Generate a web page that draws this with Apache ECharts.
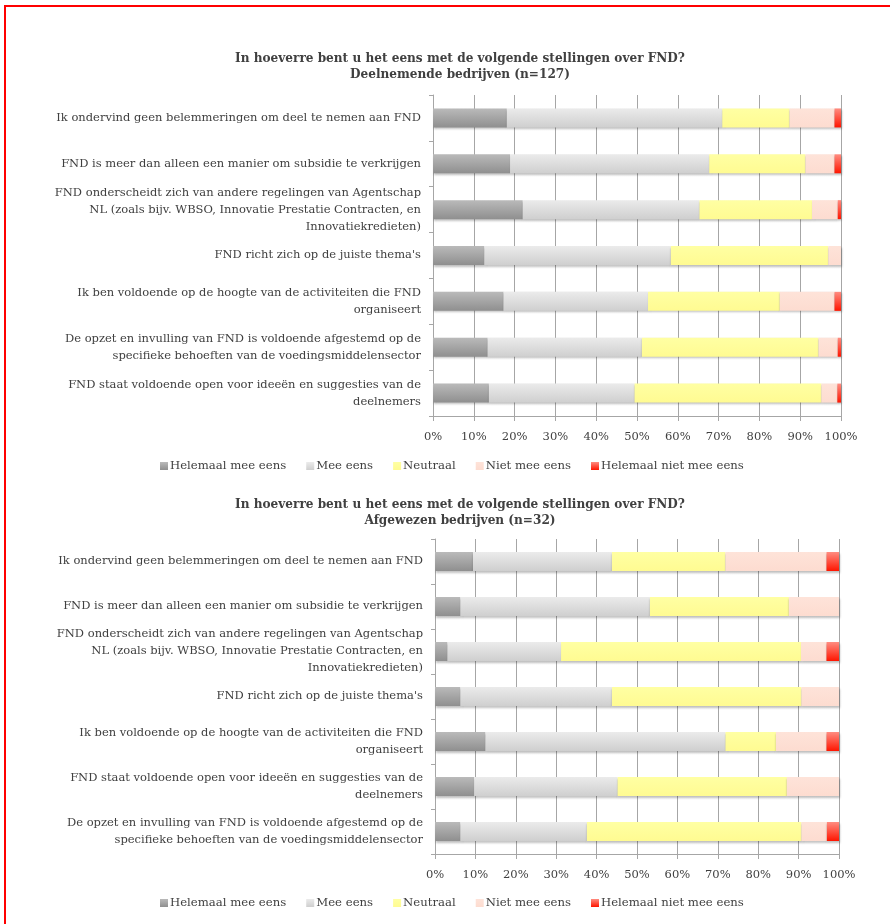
<!DOCTYPE html>
<html>
<head>
<meta charset="utf-8">
<script src="https://cdn.jsdelivr.net/npm/echarts@6/dist/echarts.min.js"></script>
<style>
html,body{margin:0;padding:0;background:#fff;}
#frame{position:absolute;left:4px;top:5px;width:920px;height:960px;border:2px solid #ff0000;box-sizing:border-box;z-index:10;pointer-events:none;}
#chart{position:absolute;left:0;top:0;width:890px;height:924px;}
</style>
</head>
<body>
<div id="chart"></div>
<div id="frame"></div>
<script>
// ---- Data ----
var seriesNames = ['Helemaal mee eens', 'Mee eens', 'Neutraal', 'Niet mee eens', 'Helemaal niet mee eens'];
var xTicks = [0, 10, 20, 30, 40, 50, 60, 70, 80, 90, 100];

var titleTop = 'In hoeverre bent u het eens met de volgende stellingen over FND?\nDeelnemende bedrijven (n=127)';
var titleBottom = 'In hoeverre bent u het eens met de volgende stellingen over FND?\nAfgewezen bedrijven (n=32)';

var categoriesTop = [
  'Ik ondervind geen belemmeringen om deel te nemen aan FND',
  'FND is meer dan alleen een manier om subsidie te verkrijgen',
  'FND onderscheidt zich van andere regelingen van Agentschap\nNL (zoals bijv. WBSO, Innovatie Prestatie Contracten, en\nInnovatiekredieten)',
  "FND richt zich op de juiste thema's",
  'Ik ben voldoende op de hoogte van de activiteiten die FND\norganiseert',
  'De opzet en invulling van FND is voldoende afgestemd op de\nspecifieke behoeften van de voedingsmiddelensector',
  'FND staat voldoende open voor ideeën en suggesties van de\ndeelnemers'
];
var topHelemaalMee     = [18.1, 18.9, 22.0, 12.6, 17.3, 13.4, 13.7];
var topMee             = [52.8, 48.8, 43.3, 45.7, 35.4, 37.8, 35.7];
var topNeutraal        = [16.5, 23.6, 27.6, 38.6, 32.3, 43.3, 45.8];
var topNietMee         = [11.0,  7.1,  6.3,  3.1, 13.4,  4.7,  3.9];
var topHelemaalNietMee = [ 1.6,  1.6,  0.8,  0.0,  1.6,  0.8,  0.9];

var categoriesBottom = [
  'Ik ondervind geen belemmeringen om deel te nemen aan FND',
  'FND is meer dan alleen een manier om subsidie te verkrijgen',
  'FND onderscheidt zich van andere regelingen van Agentschap\nNL (zoals bijv. WBSO, Innovatie Prestatie Contracten, en\nInnovatiekredieten)',
  "FND richt zich op de juiste thema's",
  'Ik ben voldoende op de hoogte van de activiteiten die FND\norganiseert',
  'FND staat voldoende open voor ideeën en suggesties van de\ndeelnemers',
  'De opzet en invulling van FND is voldoende afgestemd op de\nspecifieke behoeften van de voedingsmiddelensector'
];
var botHelemaalMee     = [ 9.4,  6.3,  3.1,  6.3, 12.5,  9.7,  6.3];
var botMee             = [34.4, 46.9, 28.1, 37.5, 59.4, 35.5, 31.3];
var botNeutraal        = [28.1, 34.4, 59.4, 46.9, 12.5, 41.9, 53.1];
var botNietMee         = [25.0, 12.5,  6.3,  9.4, 12.5, 12.9,  6.3];
var botHelemaalNietMee = [ 3.1,  0.0,  3.1,  0.0,  3.1,  0.0,  3.1];

// ---- Styles ----
var FONT = 'DejaVu Serif';
var TXT = '#404040';
function grad(a, b) {
  return new echarts.graphic.LinearGradient(0, 0, 0, 1, [{offset: 0, color: a}, {offset: 1, color: b}]);
}
var fills = [
  grad('#bababa', '#8f8f8f'),
  grad('#ebebeb', '#cfcfcf'),
  grad('#ffffa3', '#fffb92'),
  grad('#fee3d9', '#fddcd0'),
  grad('#ff8c80', '#ff1500')
];

var chart = echarts.init(document.getElementById('chart'), null, {renderer: 'canvas'});

function makeSeries(gridIdx, arrays) {
  return arrays.map(function (arr, i) {
    return {
      name: seriesNames[i],
      type: 'bar',
      stack: 'g' + gridIdx,
      xAxisIndex: gridIdx,
      yAxisIndex: gridIdx,
      barWidth: 19,
      itemStyle: {
        color: fills[i],
        shadowColor: 'rgba(0,0,0,0.25)',
        shadowBlur: 2,
        shadowOffsetY: 1.5,
        shadowOffsetX: 0.5
      },
      emphasis: {disabled: true},
      data: arr
    };
  });
}

function xAxisCfg(gridIdx) {
  return {
    type: 'value',
    gridIndex: gridIdx,
    min: xTicks[0],
    max: xTicks[xTicks.length - 1],
    interval: xTicks[1] - xTicks[0],
    axisLine: {show: true, lineStyle: {color: '#a6a6a6', width: 1}},
    axisTick: {show: true, length: 5, lineStyle: {color: '#a6a6a6'}},
    splitLine: {show: true, lineStyle: {color: '#a6a6a6', width: 1}},
    axisLabel: {
      formatter: '{value}%', color: TXT, fontFamily: FONT, fontSize: 11.5, margin: 15
    }
  };
}
function yAxisCfg(gridIdx, cats) {
  return {
    type: 'category',
    gridIndex: gridIdx,
    inverse: true,
    data: cats,
    axisLine: {show: true, lineStyle: {color: '#a6a6a6', width: 1}},
    axisTick: {show: true, length: 4, lineStyle: {color: '#a6a6a6'}},
    axisLabel: {
      color: TXT, fontFamily: FONT, fontSize: 11.5, lineHeight: 17, margin: 12, align: 'right'
    }
  };
}

function legendCfg(top) {
  return {
    data: seriesNames, left: 160, top: top, padding: 0,
    itemWidth: 8, itemHeight: 8, itemGap: 20, icon: 'rect', selectedMode: false,
    textStyle: {fontFamily: FONT, fontSize: 11.7, color: TXT, padding: [0, 0, 0, -3]}
  };
}
function titleCfg(text, top) {
  return {
    text: text, left: 455, top: top, textAlign: 'center',
    textStyle: {fontFamily: FONT, fontSize: 12.1, fontWeight: 'bold', color: TXT, lineHeight: 16, align: 'center'}
  };
}

var option = {
  backgroundColor: '#ffffff',
  animation: false,
  title: [titleCfg(titleTop, 46), titleCfg(titleBottom, 492)],
  legend: [legendCfg(460), legendCfg(897)],
  grid: [
    {left: 433, right: 49, top: 95, height: 321, containLabel: false},
    {left: 435, right: 51, top: 539, height: 315, containLabel: false}
  ],
  xAxis: [xAxisCfg(0), xAxisCfg(1)],
  yAxis: [yAxisCfg(0, categoriesTop), yAxisCfg(1, categoriesBottom)],
  series: makeSeries(0, [topHelemaalMee, topMee, topNeutraal, topNietMee, topHelemaalNietMee])
    .concat(makeSeries(1, [botHelemaalMee, botMee, botNeutraal, botNietMee, botHelemaalNietMee]))
};
chart.setOption(option);
</script>
</body>
</html>
